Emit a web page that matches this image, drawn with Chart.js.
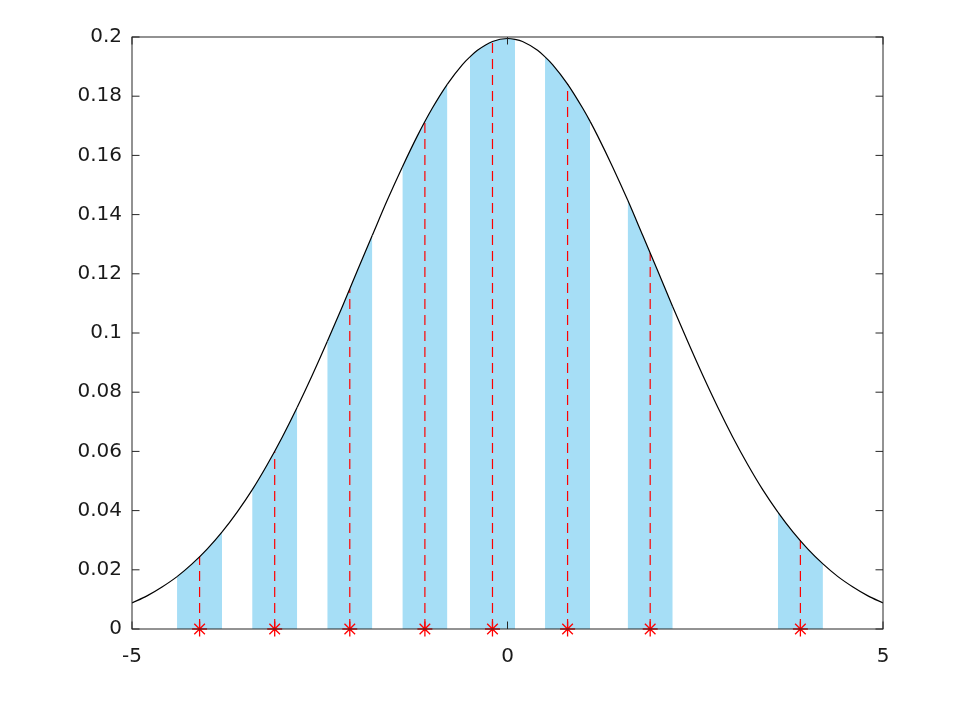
<!DOCTYPE html>
<html>
<head>
<meta charset="utf-8">
<script src="https://cdn.jsdelivr.net/npm/chart.js@4"></script>
<style>
  body { margin: 0; background: #fff; }
  #wrap { width: 977px; height: 702px; }
</style>
</head>
<body>
<div id="wrap"><canvas id="pdfChart" width="977" height="702"></canvas></div>
<script>
// curve (black line)
var curveX = [-5, -4.8, -4.6, -4.4, -4.2, -4.0, -3.8, -3.6, -3.4, -3.2, -3.0, -2.8, -2.6, -2.4, -2.2, -2.0,
  -1.8, -1.6, -1.4, -1.2, -1.0, -0.8, -0.6, -0.5, -0.4, -0.2, 0, 0.1, 0.2, 0.4, 0.5, 0.6, 0.8, 1.0, 1.1,
  1.2, 1.4, 1.6, 1.8, 2.0, 2.2, 2.4, 2.6, 2.8, 3.0, 3.2, 3.4, 3.6, 3.8, 4.0, 4.2, 4.4, 4.6, 4.8, 5];
var curveY = [0.0088, 0.0112, 0.0142, 0.0177, 0.0220, 0.0270, 0.0328, 0.0395, 0.0470, 0.0555, 0.0648, 0.0749,
  0.0857, 0.0971, 0.1089, 0.1210, 0.1330, 0.1449, 0.1561, 0.1666, 0.1760, 0.1841, 0.1907, 0.1933, 0.1955,
  0.1985, 0.1995, 0.1992, 0.1985, 0.1955, 0.1933, 0.1907, 0.1841, 0.1760, 0.1715, 0.1666, 0.1561, 0.1449,
  0.1330, 0.1210, 0.1089, 0.0971, 0.0857, 0.0749, 0.0648, 0.0555, 0.0470, 0.0395, 0.0328, 0.0270, 0.0220,
  0.0177, 0.0142, 0.0112, 0.0088];

// shaded strips under the curve
var bandStart = [-4.4, -3.4, -2.4, -1.4, -0.5, 0.5, 1.6, 3.6];
var bandEnd = [-3.8, -2.8, -1.8, -0.8, 0.1, 1.1, 2.2, 4.2];

// red dashed stems with * markers
var stemX = [-4.1, -3.1, -2.1, -1.1, -0.2, 0.8, 1.9, 3.9];
var stemY = [0.0244, 0.0600, 0.1149, 0.1715, 0.1985, 0.1841, 0.1270, 0.0298];

var xTicks = [-5, 0, 5];
var yMin = 0, yMax = 0.2, yStep = 0.02;

var BLUE = 'rgb(166, 222, 246)';
var AXIS = '#262626';

function inBand(a, b) {
  for (var i = 0; i < bandStart.length; i++) {
    if (a >= bandStart[i] - 1e-9 && b <= bandEnd[i] + 1e-9) return true;
  }
  return false;
}

var datasets = [];

// the curve, with the fill only under the strips
datasets.push({
  data: curveX.map(function (x, i) { return { x: x, y: curveY[i] }; }),
  borderColor: '#000',
  borderWidth: 1.2,
  pointRadius: 0,
  cubicInterpolationMode: 'monotone',
  fill: 'origin',
  backgroundColor: 'rgba(0,0,0,0)',
  segment: {
    backgroundColor: function (c) {
      return inBand(c.p0.parsed.x, c.p1.parsed.x) ? BLUE : 'rgba(0,0,0,0)';
    }
  },
  order: 1
});

stemX.forEach(function (sx, i) {
  datasets.push({
    data: [{ x: sx, y: 0 }, { x: sx, y: stemY[i] }],
    borderColor: 'rgb(255,0,0)',
    borderWidth: 1.2,
    borderDash: [10, 6],
    fill: false,
    clip: false,
    pointStyle: 'star',
    pointRadius: function (c) { return c.dataIndex === 0 ? 7.5 : 0; },
    pointBorderColor: 'rgb(255,0,0)',
    pointBorderWidth: 1.3,
    order: 2
  });
});

// MATLAB style box with inward ticks, drawn over the data
var boxPlugin = {
  id: 'box',
  afterDatasetsDraw: function (chart) {
    var ctx = chart.ctx, a = chart.chartArea;
    var sx = chart.scales.x, sy = chart.scales.y;
    var tl = 7.5;
    ctx.save();
    ctx.strokeStyle = AXIS;
    ctx.lineWidth = 1;
    ctx.beginPath();
    sx.ticks.forEach(function (t) {
      var px = sx.getPixelForValue(t.value);
      ctx.moveTo(px, a.bottom); ctx.lineTo(px, a.bottom - tl);
      ctx.moveTo(px, a.top); ctx.lineTo(px, a.top + tl);
    });
    sy.ticks.forEach(function (t) {
      var py = sy.getPixelForValue(t.value);
      ctx.moveTo(a.left, py); ctx.lineTo(a.left + tl, py);
      ctx.moveTo(a.right, py); ctx.lineTo(a.right - tl, py);
    });
    ctx.stroke();
    ctx.strokeRect(a.left, a.top, a.right - a.left, a.bottom - a.top);
    ctx.restore();
  }
};

Chart.defaults.font.family = "'DejaVu Sans', sans-serif";
Chart.defaults.font.size = 20;
Chart.defaults.color = '#1a1a1a';

var ctx = document.getElementById('pdfChart').getContext('2d');
var chart = new Chart(ctx, {
  type: 'line',
  data: { datasets: datasets },
  options: {
    responsive: false,
    animation: false,
    devicePixelRatio: 1,
    layout: { padding: { top: 37, right: 94, left: 0, bottom: 0 } },
    plugins: {
      legend: { display: false },
      tooltip: { enabled: false },
      filler: { drawTime: 'beforeDatasetsDraw' }
    },
    scales: {
      x: {
        type: 'linear',
        min: -5,
        max: 5,
        grid: { display: false, drawTicks: false },
        border: { display: false },
        afterBuildTicks: function (s) { s.ticks = xTicks.map(function (v) { return { value: v }; }); },
        afterFit: function (s) { s.height = 73; },
        ticks: {
          padding: 16,
          maxRotation: 0,
          callback: function (v) { return String(v); }
        }
      },
      y: {
        type: 'linear',
        min: yMin,
        max: yMax,
        grid: { display: false, drawTicks: false },
        border: { display: false },
        afterFit: function (s) { s.width = 132; },
        ticks: {
          stepSize: yStep,
          autoSkip: false,
          padding: 10,
          callback: function (v) { return String(Number(v.toFixed(2))); }
        }
      }
    }
  },
  plugins: [boxPlugin]
});
</script>
</body>
</html>
